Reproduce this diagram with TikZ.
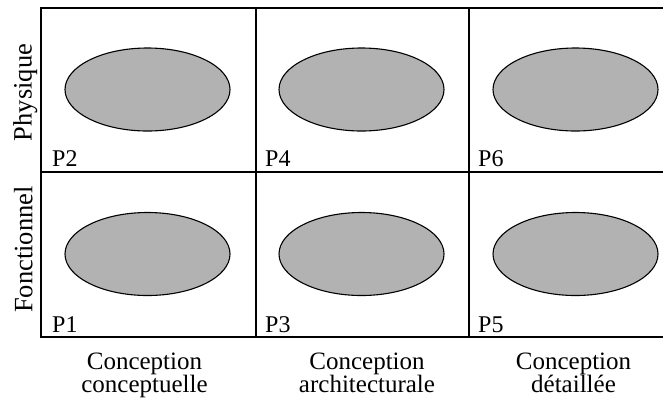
\documentclass[tikz,border=0pt]{standalone}
\usepackage{fontspec}
\setmainfont{Liberation Serif}
\usetikzlibrary{shapes.geometric}
\begin{document}
\begin{tikzpicture}[x=1pt,y=-1pt,
  blob/.style={ellipse,draw=black,line width=1.1pt,fill=black!30,minimum width=165pt,minimum height=83pt,inner sep=0pt},
  grid/.style={line width=1.1pt,draw=black},
  plab/.style={font=\fontsize{24}{23}\selectfont,inner sep=0pt,anchor=base west},
  axlab/.style={font=\fontsize{26.5}{23}\selectfont,inner sep=0pt,anchor=base,rotate=90},
  collab/.style={font=\fontsize{25}{23}\selectfont,inner sep=0pt,align=center,anchor=base}]
\useasboundingbox (0,0) rectangle (663,405);
% grid
\draw[grid] (683,8) -- (41,8) -- (41,337) -- (683,337);
\draw[grid] (41,172) -- (683,172);
\draw[grid] (256,8) -- (256,337);
\draw[grid] (469,8) -- (469,337);
% ellipses
\node[blob] (e2) at (147.5,89.5) {};
\node[blob] (e4) at (361.5,89.5) {};
\node[blob] (e6) at (575.5,89.5) {};
\node[blob] (e1) at (147.5,254) {};
\node[blob] (e3) at (361.5,254) {};
\node[blob] (e5) at (575.5,254) {};
% cell labels
\node[plab] (p2) at (52,166) {P2};
\node[plab] (p4) at (265,166) {P4};
\node[plab] (p6) at (478,166) {P6};
\node[plab] (p1) at (52,332.5) {P1};
\node[plab] (p3) at (265,332.5) {P3};
\node[plab] (p5) at (478,332.5) {P5};
% row labels
\node[axlab] (phys) at (31.7,92.5) {Physique};
\node[axlab] (fonc) at (32.3,249.5) {Fonctionnel};
% column labels
\node[collab] (c1) at (144.5,392) {Conception\\conceptuelle};
\node[collab] (c2) at (367,392) {Conception\\architecturale};
\node[collab] (c3) at (573.5,392) {Conception\\détaillée};
\end{tikzpicture}
\end{document}
